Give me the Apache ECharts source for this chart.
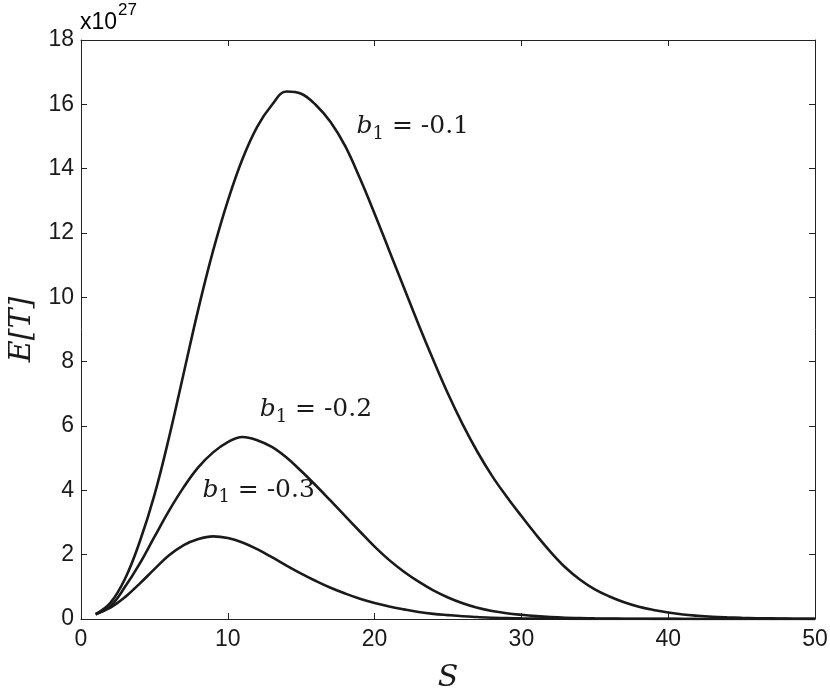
<!DOCTYPE html>
<html>
<head>
<meta charset="utf-8">
<script src="https://cdn.jsdelivr.net/npm/echarts@6/dist/echarts.min.js"></script>
<style>
  html, body { margin: 0; padding: 0; background: #fff; }
  #chart { width: 830px; height: 695px; }
</style>
</head>
<body>
<div id="chart"></div>
<script>
// S values (x axis)
const sValues = [1,2,3,4,5,6,7,8,9,10,11,12,13,14,15,16,17,18,19,20,21,22,23,24,25,
  26,27,28,29,30,31,32,33,34,35,36,37,38,39,40,41,42,43,44,45,46,47,48,49,50];

// E[T] in units of 1e27
const b1m01 = [0.15,0.5,1.25,2.4,3.85,5.65,7.65,9.65,11.45,13.0,14.3,15.3,15.98,16.4,16.33,15.98,15.45,14.7,13.7,12.6,
  11.45,10.3,9.15,8.05,7.0,6.05,5.2,4.45,3.8,3.2,2.62,2.08,1.6,1.22,0.92,0.7,0.52,0.38,0.28,0.2,
  0.14,0.1,0.07,0.05,0.035,0.025,0.018,0.012,0.008,0.005];
const b1m02 = [0.15,0.4,1.0,1.72,2.55,3.37,4.1,4.72,5.18,5.5,5.66,5.56,5.35,5.02,4.6,4.15,3.68,3.2,2.72,2.25,
  1.83,1.47,1.16,0.89,0.67,0.49,0.35,0.25,0.18,0.13,0.09,0.06,0.04,0.03,0.02,0.014,0.01,0.007,0.005,0.003,
  0.002,0.001,0.001,0,0,0,0,0,0,0];
const b1m03 = [0.15,0.35,0.68,1.1,1.55,1.98,2.3,2.49,2.57,2.52,2.38,2.17,1.92,1.66,1.41,1.18,0.97,0.79,0.63,0.5,
  0.39,0.3,0.22,0.16,0.12,0.085,0.06,0.04,0.03,0.02,0.014,0.01,0.006,0.004,0.002,0.001,0,0,0,0,
  0,0,0,0,0,0,0,0,0,0];

const yTicks = [0,2,4,6,8,10,12,14,16,18];
const xTicks = [0,10,20,30,40,50];

// curve labels: [b1 value, S, E]
const curveLabels = [
  ['-0.1', 22.6, 15.3],
  ['-0.2', 16.0, 6.5],
  ['-0.3', 12.1, 4.0]
];

const seriesData = [b1m01, b1m02, b1m03];

const chart = echarts.init(document.getElementById('chart'));

const axisCommon = {
  type: 'value',
  axisLine: { show: true, onZero: false, lineStyle: { color: '#222', width: 1 } },
  axisTick: { show: true, inside: true, length: 6, lineStyle: { color: '#222', width: 1 } },
  splitLine: { show: false }
};

const labelRich = {
  b: { fontFamily: 'DejaVu Serif', fontStyle: 'italic', fontSize: 25, color: '#1a1a1a' },
  s: { fontFamily: 'DejaVu Serif', fontSize: 18, color: '#1a1a1a', padding: [14, 0, 0, 0] },
  t: { fontFamily: 'DejaVu Serif', fontSize: 25, color: '#1a1a1a' }
};

const option = {
  animation: false,
  backgroundColor: '#fff',
  grid: { left: 81, right: 15, top: 40, bottom: 76, containLabel: false, outerBoundsMode: 'none' },
  xAxis: [
    Object.assign({}, axisCommon, {
      min: 0, max: 50, interval: 10, position: 'bottom',
      axisLabel: { fontFamily: 'Liberation Sans', fontSize: 23, color: '#1a1a1a', margin: 9 },
      name: 'S', nameLocation: 'middle', nameGap: 44,
      nameTextStyle: { fontFamily: 'DejaVu Serif', fontStyle: 'italic', fontSize: 30, color: '#1a1a1a' }
    }),
    Object.assign({}, axisCommon, {
      min: 0, max: 50, interval: 10, position: 'top', axisLabel: { show: false }
    })
  ],
  yAxis: [
    Object.assign({}, axisCommon, {
      min: 0, max: 18, interval: 2, position: 'left',
      axisLabel: { fontFamily: 'Liberation Sans', fontSize: 23, color: '#1a1a1a', margin: 7 },
      name: 'E[T]', nameLocation: 'middle', nameGap: 40, nameRotate: 90,
      nameTextStyle: { fontFamily: 'DejaVu Serif', fontStyle: 'italic', fontSize: 30, color: '#1a1a1a' }
    }),
    Object.assign({}, axisCommon, {
      min: 0, max: 18, interval: 2, position: 'right', axisLabel: { show: false }
    })
  ],
  graphic: [{
    type: 'text', left: 80, top: 2,
    style: {
      text: '{a|x10}{e|27}',
      rich: {
        a: { fontFamily: 'Liberation Sans', fontSize: 23, color: '#1a1a1a', padding: [14, 0, 0, 0] },
        e: { fontFamily: 'Liberation Sans', fontSize: 17, color: '#1a1a1a', padding: [0, 0, 10, 1] }
      }
    }
  }],
  series: seriesData.map(function (vals, i) {
    const lab = curveLabels[i];
    return {
      type: 'line',
      data: sValues.map(function (s, k) { return [s, vals[k]]; }),
      smooth: 0.4,
      symbol: 'none',
      lineStyle: { color: '#1a1a1a', width: 2.6 },
      markPoint: {
        symbol: 'circle', symbolSize: 0,
        data: [{ coord: [lab[1], lab[2]], value: lab[0] }],
        label: {
          show: true, position: 'inside',
          formatter: '{b|b}{s|1}{t| = ' + lab[0] + '}',
          rich: labelRich
        }
      }
    };
  })
};

chart.setOption(option);
</script>
</body>
</html>
